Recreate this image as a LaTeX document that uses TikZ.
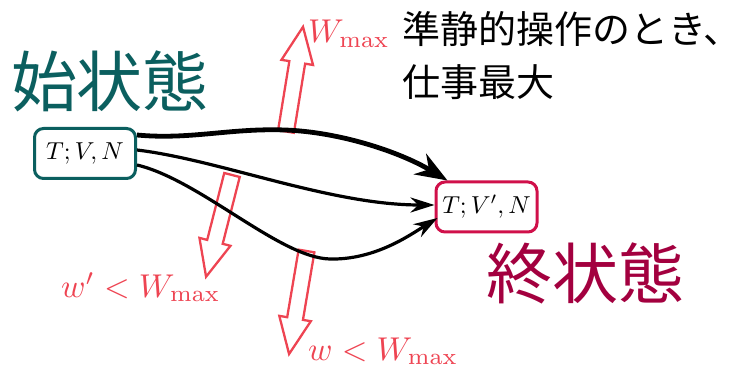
\documentclass[tikz,border=0pt]{standalone}
\usepackage{fontspec}
\newfontfamily\jp{Noto Sans CJK JP}
\usetikzlibrary{arrows.meta}
\definecolor{tealc}{HTML}{0B5F5F}
\definecolor{crim}{HTML}{A3003F}
\definecolor{crimbox}{HTML}{D0104A}
\definecolor{redc}{HTML}{EE4452}
\newcommand\hollowarrow[3]{%
  \begin{scope}[shift={#1}, rotate=#2]
    \draw[redarrow] (0,8) -- ({#3-36},8) -- ({#3-36},16) -- (#3,0) -- ({#3-36},-16) -- ({#3-36},-8) -- (0,-8) -- cycle;
  \end{scope}}
\newcommand\bigmath[2]{\scalebox{#1}{$#2$}}
\begin{document}
\begin{tikzpicture}[x=1pt,y=-1pt,
  statebox/.style={draw, rounded corners=9pt, line width=3pt, minimum width=101pt, minimum height=50pt, inner sep=2pt, fill=white},
  redarrow/.style={draw=redc, line width=2.3pt, line join=miter},
  bigtitle/.style={inner sep=0pt, font=\jp\fontsize{66}{66}\selectfont},
  redlabel/.style={text=redc, inner sep=0pt},
  thickconn/.style={line width=4.8pt, -{Stealth[length=32pt,width=24pt]}},
  thinconn/.style={line width=3.2pt, -{Stealth[length=24pt,width=15pt]}}
]
\useasboundingbox (0,0) rectangle (747,374);

% hollow work arrows
\hollowarrow{(286,131.5)}{80.76}{106}
\hollowarrow{(232,175)}{255.7}{105}
\hollowarrow{(306.5,251)}{260.4}{104.5}

% states
\node[statebox, draw=tealc] (init) at (85,153.5) {\bigmath{2.45}{T;V,N}};
\node[statebox, draw=crimbox] (fin) at (486.5,207) {\bigmath{2.45}{T;V',N}};

% titles
\node[bigtitle, text=tealc] (tinit) at (110,81) {始状態};
\node[bigtitle, text=crim] (tfin) at (585,273.5) {終状態};
\node[inner sep=0pt, anchor=north west, align=left, font=\jp\fontsize{38}{53}\selectfont] (note) at (402,11) {準静的操作のとき、\\仕事最大};

% red labels
\node[redlabel, anchor=base west] (lmax) at (308,43) {\bigmath{3.3}{W_{\max}}};
\node[redlabel, anchor=base west] (lwp) at (61,297) {\bigmath{3.3}{w'<W_{\max}}};
\node[redlabel, anchor=base west] (lw) at (308,360) {\bigmath{3.3}{w<W_{\max}}};

% connectors
\draw[thickconn] ([yshift=18.5pt]init.east) .. controls (190,140) and (230,128) .. (285,130)
   .. controls (340,132) and (400,152) .. ([xshift=13pt]fin.north west);
\draw[thinconn] ([yshift=3.5pt]init.east) .. controls (220,160) and (330,205) .. ([yshift=2pt]fin.west);
\draw[thinconn] ([yshift=-11.5pt]init.east) .. controls (200,180) and (280,258) .. (330,259)
   .. controls (375,260) and (410,235) .. ([xshift=3pt,yshift=-11pt]fin.west);
\end{tikzpicture}
\end{document}
